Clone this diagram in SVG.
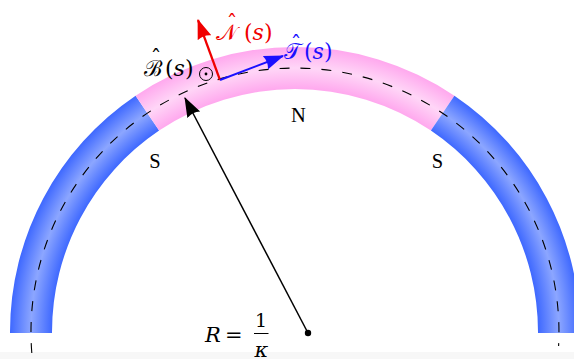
<svg xmlns="http://www.w3.org/2000/svg" width="574" height="359" viewBox="0 0 574 359">
  <defs>
    <radialGradient id="gBlue" gradientUnits="userSpaceOnUse" cx="295" cy="332" r="285">
      <stop offset="0.852" stop-color="#3e68ff"/>
      <stop offset="0.926" stop-color="#8ca6ff"/>
      <stop offset="1" stop-color="#3e68ff"/>
    </radialGradient>
    <radialGradient id="gPink" gradientUnits="userSpaceOnUse" cx="295" cy="332" r="285">
      <stop offset="0.852" stop-color="#ffa8ee"/>
      <stop offset="0.926" stop-color="#ffd6f7"/>
      <stop offset="1" stop-color="#ffa8ee"/>
    </radialGradient>
    <marker id="mBlack" markerUnits="userSpaceOnUse" markerWidth="20" markerHeight="16" viewBox="0 0 18 14" refX="17" refY="7" orient="auto">
      <path d="M18,7 L0,0.5 Q3,7 0,13.5 Z" fill="#000"/>
    </marker>
    <marker id="mRed" markerUnits="userSpaceOnUse" markerWidth="20" markerHeight="16" viewBox="0 0 18 14" refX="17" refY="7" orient="auto">
      <path d="M18,7 L0,0.5 Q3,7 0,13.5 Z" fill="#f00000"/>
    </marker>
    <marker id="mBlue" markerUnits="userSpaceOnUse" markerWidth="20" markerHeight="16" viewBox="0 0 18 14" refX="17" refY="7" orient="auto">
      <path d="M18,7 L0,0.5 Q3,7 0,13.5 Z" fill="#1a10ff"/>
    </marker>
  </defs>
  <style>
    text { font-family: 'DejaVu Serif', 'Liberation Serif', serif; }
    .pole { font-family: 'Liberation Serif', 'DejaVu Serif', serif; font-size: 20.5px; }
    .it { font-style: italic; }
    .dash { fill: none; stroke: #000; stroke-width: 1.1; stroke-dasharray: 10 11; }
  </style>
  <rect x="0" y="0" width="574" height="359" fill="#ffffff"/>
  <rect x="0" y="352" width="574" height="7" fill="#f7f7f7"/>

  <g id="magnet-left-S">
    <path d="M10,333 L10,332 A285,285 0 0 1 135.6,95.7 L159.1,130.6 A243,243 0 0 0 52,332 L52,333 Z" fill="url(#gBlue)"/>
  </g>
  <g id="magnet-N">
    <path d="M135.6,95.7 A285,285 0 0 1 454.4,95.7 L430.9,130.6 A243,243 0 0 0 159.1,130.6 Z" fill="url(#gPink)"/>
  </g>
  <g id="magnet-right-S">
    <path d="M454.4,95.7 A285,285 0 0 1 580,332 L580,333 L538,333 L538,332 A243,243 0 0 0 430.9,130.6 Z" fill="url(#gBlue)"/>
  </g>

  <g id="centerline">
    <path class="dash" d="M31.8,353 A264,264 0 1 1 558.6,346"/>
  </g>

  <g id="labels-poles">
    <text class="pole" x="298.5" y="122" text-anchor="middle">N</text>
    <text class="pole" x="155" y="167.5" text-anchor="middle">S</text>
    <text class="pole" x="437.5" y="167.5" text-anchor="middle">S</text>
  </g>

  <g id="connectors">
    <line x1="308" y1="333" x2="185" y2="98" stroke="#000" stroke-width="1.5" marker-end="url(#mBlack)"/>
    <line x1="220" y1="80" x2="198" y2="20" stroke="#f00000" stroke-width="2.2" marker-end="url(#mRed)"/>
    <line x1="220" y1="80" x2="283" y2="56" stroke="#1a10ff" stroke-width="2" marker-end="url(#mBlue)"/>
  </g>

  <g id="center-dot">
    <circle cx="308" cy="333" r="3.2" fill="#000"/>
  </g>

  <g id="binormal" font-size="22">
    <circle cx="206" cy="74" r="6.5" fill="none" stroke="#000" stroke-width="1"/>
    <circle cx="206" cy="74" r="1.4" fill="#000"/>
    <text x="144" y="76" fill="#000">ℬ</text>
    <text x="156" y="66" fill="#000" text-anchor="middle">ˆ</text>
    <text x="165" y="76" fill="#000">(<tspan class="it">s</tspan>)</text>
  </g>

  <g id="normal" font-size="22">
    <text x="216" y="40" fill="#f00000">𝒩</text>
    <text x="232" y="31" fill="#f00000" text-anchor="middle">ˆ</text>
    <text x="244" y="40" fill="#f00000">(<tspan class="it">s</tspan>)</text>
  </g>

  <g id="tangent" font-size="22">
    <text x="284" y="59" fill="#1a10ff">𝒯</text>
    <text x="296" y="52" fill="#1a10ff" text-anchor="middle">ˆ</text>
    <text x="304" y="59" fill="#1a10ff">(<tspan class="it">s</tspan>)</text>
  </g>

  <g id="radius-label" font-size="21">
    <text class="it" x="205" y="342">R</text>
    <text x="225" y="342">=</text>
    <text x="261" y="327" font-size="19" text-anchor="middle">1</text>
    <line x1="254" y1="333.5" x2="268.5" y2="333.5" stroke="#000" stroke-width="1"/>
    <text class="it" x="261.5" y="357" text-anchor="middle">κ</text>
  </g>
</svg>
